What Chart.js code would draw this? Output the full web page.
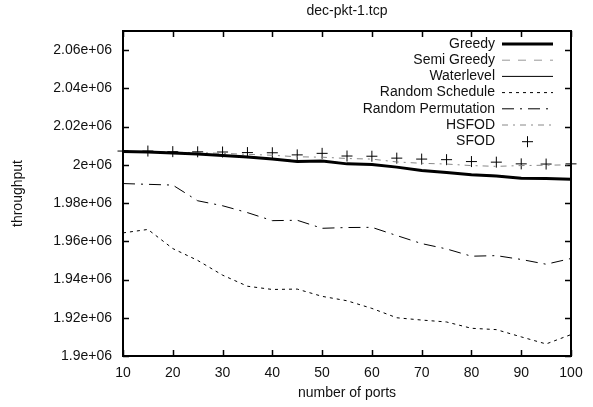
<!DOCTYPE html>
<html>
<head>
<meta charset="utf-8">
<script src="https://cdn.jsdelivr.net/npm/chart.js@4.4.1/dist/chart.umd.min.js"></script>
<style>
  html, body { margin: 0; padding: 0; background: #fff; }
  canvas { display: block; }
</style>
</head>
<body>
<canvas id="chart" width="593" height="407"></canvas>
<script>
// data
const ports = [10, 15, 20, 25, 30, 35, 40, 45, 50, 55, 60, 65, 70, 75, 80, 85, 90, 95, 100];
const greedy = [2007000, 2006700, 2006200, 2005600, 2004900, 2004100, 2003000, 2001800, 2002000, 2000500, 2000200, 1998800, 1997000, 1996000, 1994800, 1994200, 1993000, 1992800, 1992500];
const semiGreedy = [2006800, 2006600, 2006300, 2005600, 2005000, 2004200, 2003300, 2002200, 2002100, 2000800, 2000200, 1998800, 1997300, 1996000, 1995000, 1994300, 1993200, 1992900, 1992700];
const waterlevel = [2007000, 2006800, 2006300, 2005700, 2005000, 2004300, 2003200, 2001900, 2002000, 2000600, 2000300, 1998900, 1997100, 1996100, 1994900, 1994400, 1993000, 1992700, 1992400];
const randomSchedule = [1964400, 1966200, 1956200, 1950000, 1942300, 1936500, 1934800, 1935000, 1931200, 1928900, 1924900, 1920000, 1918800, 1917800, 1914500, 1913800, 1910000, 1906300, 1911200];
const randomPermutation = [1990200, 1989800, 1989400, 1981200, 1978600, 1975000, 1970800, 1971000, 1966800, 1967200, 1967300, 1963000, 1958800, 1956000, 1952200, 1952500, 1950500, 1948000, 1951000];
const hsfod = [2007000, 2006900, 2006600, 2006400, 2006000, 2005500, 2005000, 2004200, 2004000, 2003300, 2003000, 2001500, 2000800, 2000400, 1999600, 1999200, 1999600, 1999800, 2000000];
const sfod = [2007200, 2007200, 2006900, 2006800, 2006700, 2006400, 2006300, 2005200, 2006000, 2004600, 2004500, 2003500, 2003000, 2002700, 2001700, 2001400, 2000500, 2000400, 2000500];
const yTicks = [1900000, 1920000, 1940000, 1960000, 1980000, 2000000, 2020000, 2040000, 2060000];

const FONT = 'Liberation Sans, Arial, Helvetica, sans-serif';

function pts(arr) {
  return ports.map((p, i) => ({ x: p, y: arr[i] }));
}

function gnuFmt(v) {
  return parseFloat((v / 1e6).toFixed(4)) + 'e+06';
}

// gnuplot style frame with inward ticks on all four sides
const framePlugin = {
  id: 'frame',
  beforeDatasetsDraw(chart) {
    const { ctx, chartArea: a, scales } = chart;
    ctx.save();
    ctx.strokeStyle = '#000';
    ctx.lineWidth = 1.5;
    ctx.beginPath();
    scales.x.ticks.forEach(t => {
      const px = Math.round(scales.x.getPixelForValue(t.value)) + 0.5;
      ctx.moveTo(px, a.bottom); ctx.lineTo(px, a.bottom - 6);
      ctx.moveTo(px, a.top); ctx.lineTo(px, a.top + 6);
    });
    scales.y.ticks.forEach(t => {
      const py = Math.round(scales.y.getPixelForValue(t.value)) + 0.5;
      ctx.moveTo(a.left, py); ctx.lineTo(a.left + 6, py);
      ctx.moveTo(a.right, py); ctx.lineTo(a.right - 6, py);
    });
    ctx.stroke();
    ctx.lineWidth = 2;
    ctx.strokeRect(a.left, a.top, a.right - a.left, a.bottom - a.top);
    // title centred over the plot
    ctx.fillStyle = '#111';
    ctx.font = '14px ' + FONT;
    ctx.textAlign = 'center';
    ctx.textBaseline = 'middle';
    ctx.fillText('dec-pkt-1.tcp', (a.left + a.right) / 2, 11);
    ctx.restore();
  },
  afterDraw(chart) {
    // key in the top right corner, sample to the right of the text
    const { ctx } = chart;
    ctx.save();
    ctx.font = '14px ' + FONT;
    ctx.textAlign = 'right';
    ctx.textBaseline = 'middle';
    chart.data.datasets.forEach((ds, i) => {
      const y = 44 + i * 16.2;
      ctx.fillStyle = '#111';
      ctx.fillText(ds.label, 495, y);
      ctx.strokeStyle = ds.borderColor;
      if (ds.showLine === false) {
        ctx.lineWidth = 1;
        ctx.beginPath();
        ctx.moveTo(522, y + 0.5); ctx.lineTo(533, y + 0.5);
        ctx.moveTo(527.5, y - 5); ctx.lineTo(527.5, y + 6);
        ctx.stroke();
      } else {
        ctx.lineWidth = ds.borderWidth;
        ctx.setLineDash(ds.borderDash || []);
        ctx.beginPath();
        ctx.moveTo(502, y); ctx.lineTo(553, y);
        ctx.stroke();
        ctx.setLineDash([]);
      }
    });
    ctx.restore();
  }
};

new Chart(document.getElementById('chart'), {
  type: 'line',
  data: {
    datasets: [
      { label: 'Greedy', data: pts(greedy), borderColor: '#000', borderWidth: 3 },
      { label: 'Semi Greedy', data: pts(semiGreedy), borderColor: '#999', borderWidth: 1, borderDash: [8, 8] },
      { label: 'Waterlevel', data: pts(waterlevel), borderColor: '#000', borderWidth: 1 },
      { label: 'Random Schedule', data: pts(randomSchedule), borderColor: '#000', borderWidth: 1, borderDash: [3, 4] },
      { label: 'Random Permutation', data: pts(randomPermutation), borderColor: '#000', borderWidth: 1, borderDash: [12, 6, 2, 6] },
      { label: 'HSFOD', data: pts(hsfod), borderColor: '#888', borderWidth: 1, borderDash: [6, 5, 2, 5] },
      { label: 'SFOD', data: pts(sfod), borderColor: '#000', borderWidth: 1, showLine: false,
        pointStyle: 'cross', pointRadius: 5.5, pointBorderWidth: 1, clip: false }
    ]
  },
  options: {
    responsive: false,
    animation: false,
    devicePixelRatio: 1,
    layout: { padding: { top: 31, right: 22, left: 0, bottom: 0 } },
    elements: {
      line: { tension: 0, fill: false },
      point: { radius: 0, hoverRadius: 0 }
    },
    plugins: {
      legend: { display: false },
      title: { display: false },
      tooltip: { enabled: false }
    },
    scales: {
      x: {
        type: 'linear',
        min: 10,
        max: 100,
        grid: { display: false, drawTicks: false },
        border: { display: false },
        ticks: { stepSize: 10, color: '#111', font: { family: FONT, size: 14 }, padding: 9 },
        title: { display: true, text: 'number of ports', color: '#111',
                 font: { family: FONT, size: 14 }, padding: { top: 0, bottom: 5 } },
        afterFit(s) { s.height = 51; }
      },
      y: {
        type: 'linear',
        min: 1900000,
        max: 2070000,
        grid: { display: false, drawTicks: false },
        border: { display: false },
        afterBuildTicks(s) { s.ticks = yTicks.map(v => ({ value: v })); },
        ticks: { color: '#111', font: { family: FONT, size: 14 }, padding: 11,
                 callback: v => gnuFmt(v) },
        title: { display: true, text: 'throughput', color: '#111',
                 font: { family: FONT, size: 14 }, padding: { top: 10, bottom: 0 } },
        afterFit(s) { s.width = 123; }
      }
    }
  },
  plugins: [framePlugin]
});
</script>
</body>
</html>
